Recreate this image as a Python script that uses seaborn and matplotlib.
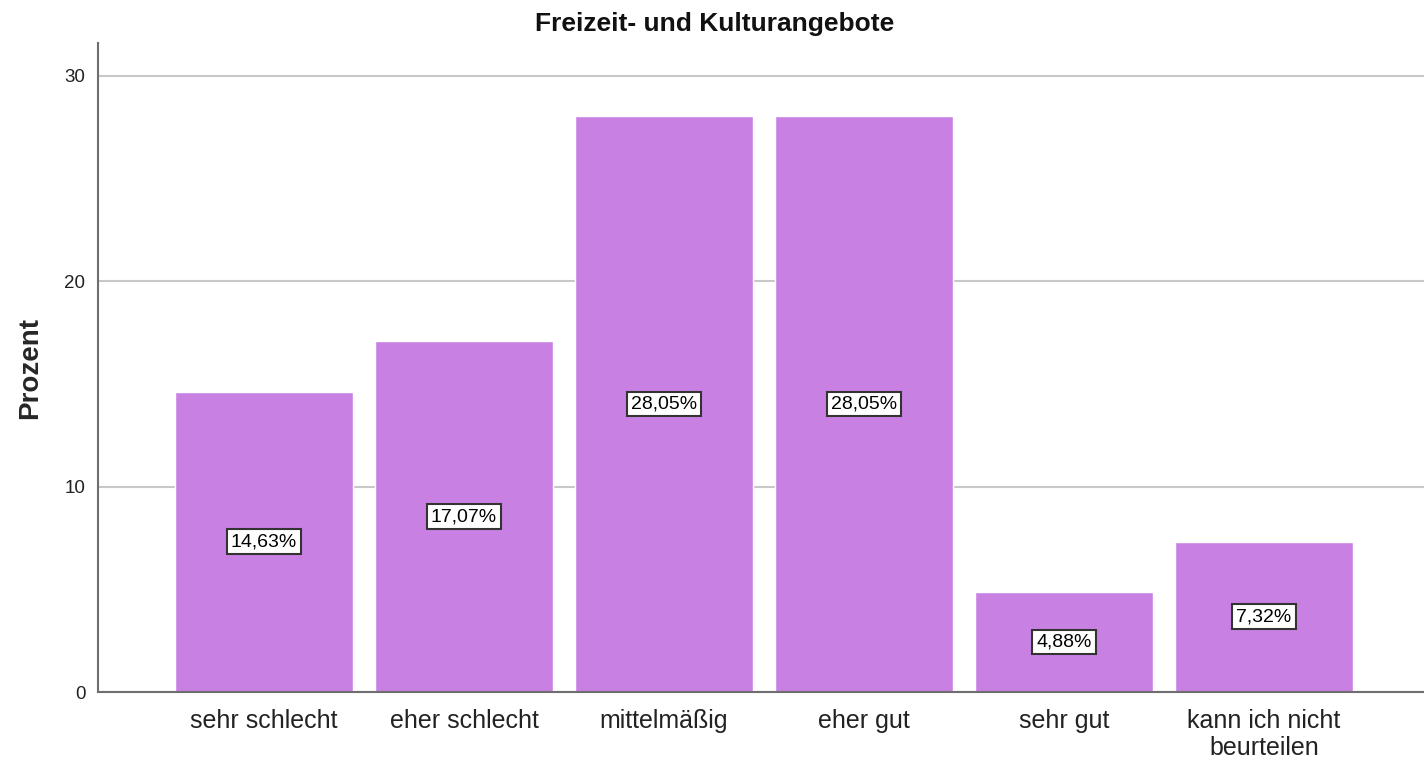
import matplotlib
matplotlib.use("Agg")
import matplotlib.pyplot as plt
import seaborn as sns
import pandas as pd

categories = ["sehr schlecht", "eher schlecht", "mittelmäßig", "eher gut", "sehr gut", "kann ich nicht\nbeurteilen"]
values = [14.63, 17.07, 28.05, 28.05, 4.88, 7.32]
yticks = [0, 10, 20, 30]
title = "Freizeit- und Kulturangebote"
ylabel = "Prozent"

sns.set_theme(style="white")
plt.rcParams['font.family'] = ['Liberation Sans', 'DejaVu Sans']

df = pd.DataFrame({"cat": categories, "val": values})

fig = plt.figure(figsize=(14.24, 7.65), dpi=100)
ax = fig.add_axes([0.0688, 0.0954, 0.9312, 0.8484])
ax.yaxis.grid(True, color="#c8c8c8", linewidth=1.5, zorder=0)
ax.set_axisbelow(True)
sns.barplot(data=df, x="cat", y="val", color="#C980E3", saturation=1, width=0.89, ax=ax, zorder=2)

for p, v in zip(ax.patches, values):
    ax.text(p.get_x() + p.get_width() / 2, v / 2, f"{v:.2f}%".replace(".", ","),
            ha="center", va="center", fontsize=14, color="black", zorder=5,
            bbox=dict(boxstyle="square,pad=0.2", facecolor="white", edgecolor="#333333", linewidth=1.5))

ax.set_xlim(-0.83, 5.8)
ax.set_ylim(0, 31.6)
ax.set_yticks(yticks)
ax.set_yticklabels([str(t) for t in yticks], fontsize=13.5, color="#222222")
ax.tick_params(axis="x", labelsize=18, colors="#222222", length=0, pad=12)
ax.tick_params(axis="y", length=0, pad=9)
for lbl in ax.get_xticklabels():
    lbl.set_linespacing(1.15)
ax.set_xlabel("")
ax.set_ylabel(ylabel, fontsize=20, fontweight="bold")
ax.yaxis.set_label_coords(-0.041, 0.5)
fig.text(0.502, 0.969, title, fontsize=19, fontweight="bold", ha="center", va="center", color="#111111")
for s in ["top", "right"]:
    ax.spines[s].set_visible(False)
for s in ["left", "bottom"]:
    ax.spines[s].set_color("#6e6e6e")
    ax.spines[s].set_linewidth(1.5)

fig.savefig("out.png", dpi=100)
